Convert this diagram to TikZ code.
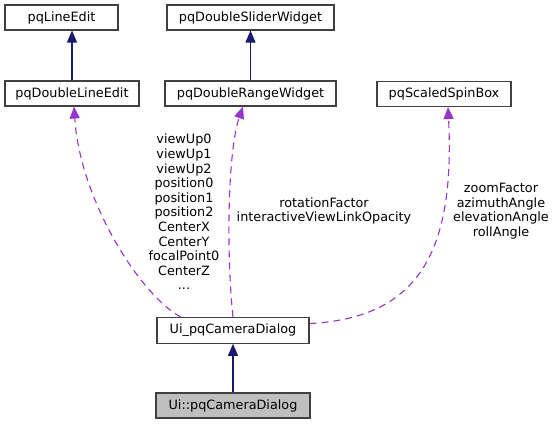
\documentclass[tikz,border=0pt]{standalone}
\usepackage{fontspec}
\setmainfont{DejaVu Sans}
\usetikzlibrary{arrows.meta}
\definecolor{boxgray}{HTML}{404040}
\definecolor{inhblue}{HTML}{191970}
\definecolor{usepurple}{HTML}{9A32CD}
\definecolor{selgray}{HTML}{BFBFBF}
\begin{document}
\begin{tikzpicture}[x=1pt,y=-1pt,
  box/.style={draw=boxgray, fill=white, line width=1.1pt, inner sep=0pt,
    font=\fontsize{12.8}{14.6}\selectfont, text=black},
  inh/.style={draw=inhblue, line width=1.1pt, -{Triangle[length=12pt,width=10pt]}},
  use/.style={draw=usepurple, line width=1.1pt, dash pattern=on 7pt off 5pt,
    -{Triangle[length=12pt,width=10pt]}},
  lbl/.style={align=center, inner sep=0pt, text=black,
    font=\fontsize{12.8}{14.6}\selectfont}]
\useasboundingbox (0,0) rectangle (556,425);

\node[box, minimum width=113pt, minimum height=25pt] (le) at (61.5,17.5) {pqLineEdit};
\node[box, minimum width=167pt, minimum height=25pt] (dsw) at (250.5,17.5) {pqDoubleSliderWidget};
\node[box, minimum width=134pt, minimum height=25pt] (dle) at (72,93.5) {pqDoubleLineEdit};
\node[box, minimum width=171pt, minimum height=25pt] (drw) at (250.5,93.5) {pqDoubleRangeWidget};
\node[box, minimum width=134pt, minimum height=25pt] (ssb) at (444,94) {pqScaledSpinBox};
\node[box, minimum width=152pt, minimum height=25.5pt] (uic) at (233,330.5) {Ui\_pqCameraDialog};
\node[box, fill=selgray, minimum width=154pt, minimum height=25pt] (cd) at (233,405.5) {Ui::pqCameraDialog};

\draw[inh] (dle.north) -- (dle.north |- le.south);
\draw[inh] (drw.north) -- (drw.north |- dsw.south);
\draw[inh] (cd.north) -- (uic.south);

\draw[use] ([xshift=-52pt]uic.north) .. controls (140,295) and (80,200) .. ([xshift=2pt]dle.south);
\draw[use] (uic.north) .. controls (226,250) and (228,150) .. ([xshift=-7.5pt]drw.south);
\draw[use] ([yshift=7pt]uic.east) .. controls (420,318) and (455,250) .. ([xshift=4pt]ssb.south);

\node[lbl] (l1) at (184,212) {viewUp0\\viewUp1\\viewUp2\\position0\\position1\\position2\\CenterX\\CenterY\\focalPoint0\\CenterZ\\...};
\node[lbl] (l2) at (324,211) {rotationFactor\\interactiveViewLinkOpacity};
\node[lbl] (l3) at (501,211) {zoomFactor\\azimuthAngle\\elevationAngle\\rollAngle};
\end{tikzpicture}
\end{document}
